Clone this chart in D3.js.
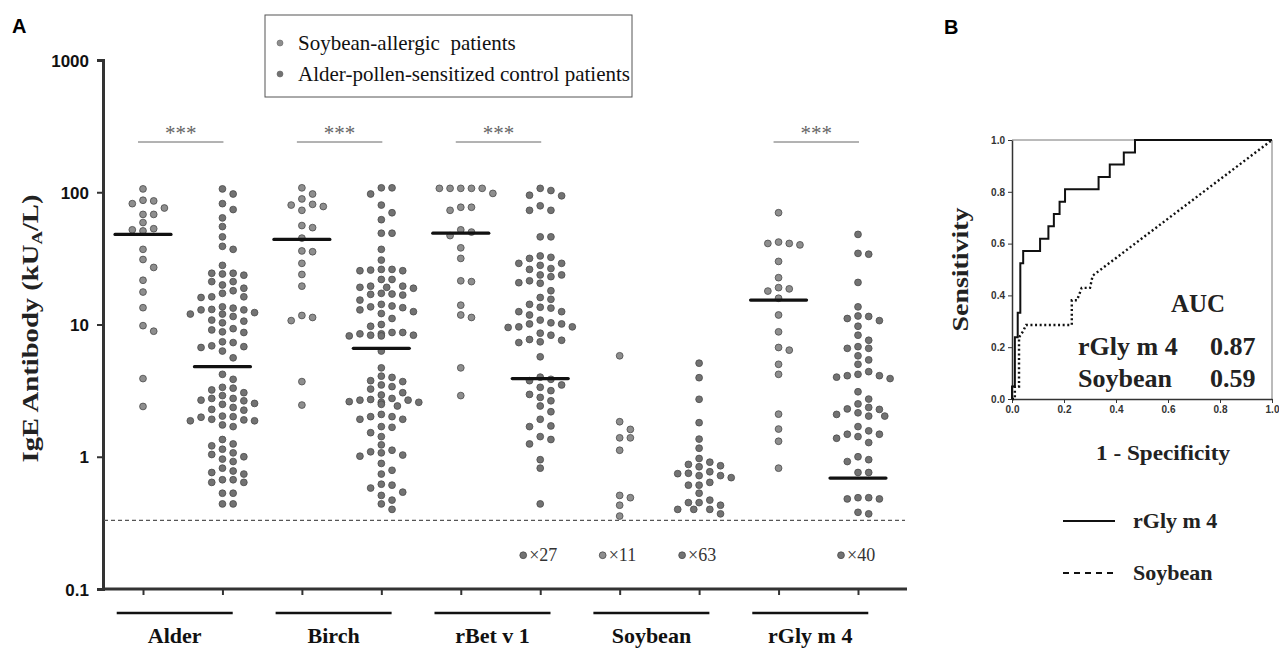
<!DOCTYPE html>
<html>
<head>
<meta charset="utf-8">
<title>IgE antibody levels and ROC</title>
<style>
  body { margin: 0; background: #fff; }
  svg { display: block; }
</style>
</head>
<body>
<script src="https://d3js.org/d3.v7.min.js"></script>
<script>
// ---- data ----
const allergens = ['Alder', 'Birch', 'rBet v 1', 'Soybean', 'rGly m 4'];
const groups = ['patients', 'controls'];
const seriesNames = ['Soybean-allergic  patients', 'Alder-pollen-sensitized control patients'];

const alderPatients = [106, 87, 86, 82, 76, 68, 68, 59, 53, 52, 51, 37, 31, 27, 21.6, 17.6, 13.4, 9.8, 8.9, 3.9, 2.4];
const alderControls = [106, 97, 82, 74, 64, 55, 46, 39, 37, 28, 24.4, 24.4, 24.1, 23.6, 21.1, 21.1, 19.9, 18.8, 18.0, 17.2,
  16.2, 16.2, 16.0, 13.6, 13.3, 13.0, 12.9, 12.9, 12.3, 12.0, 12.0, 11.5, 10.8, 10.6, 10.3, 9.3, 9.1, 8.8, 8.7, 7.4, 7.3,
  6.9, 6.8, 6.7, 6.3, 5.6, 4.2, 3.85, 3.35, 3.3, 3.2, 3.05, 2.9, 2.76, 2.76, 2.68, 2.65, 2.53, 2.49, 2.36, 2.28, 2.25,
  2.03, 2.01, 1.99, 1.92, 1.90, 1.87, 1.87, 1.74, 1.69, 1.35, 1.25, 1.21, 1.14, 1.07, 1.04, 1.00, 0.96, 0.92, 0.82,
  0.78, 0.76, 0.74, 0.67, 0.67, 0.64, 0.64, 0.53, 0.53, 0.44, 0.44];
const birchPatients = [108, 97, 89, 81, 80, 78, 73, 56, 54, 45, 36, 35.5, 29, 23.9, 19.5, 11.7, 11.3, 10.7, 3.7, 2.46];
const birchControls = [108, 108, 97, 80, 70, 62, 49, 49, 37, 30.7, 26.1, 26.1, 25.8, 25.5, 25.5, 21.9, 21.9, 19.5, 19.5,
  19.1, 19.1, 18.8, 17.2, 17.0, 16.9, 16.7, 15.3, 14.2, 13.8, 13.6, 13.4, 12.9, 12.5, 12.1, 11.1, 10.0, 9.7, 8.7, 8.7,
  8.5, 8.5, 8.3, 8.3, 8.2, 8.2, 6.3, 4.7, 4.07, 3.98, 3.76, 3.7, 3.49, 3.39, 3.25, 3.05, 2.93, 2.76, 2.71, 2.68, 2.68,
  2.61, 2.58, 2.58, 2.49, 2.42, 2.09, 2.01, 2.01, 1.92, 1.92, 1.69, 1.67, 1.52, 1.42, 1.23, 1.12, 1.09, 1.07, 1.03,
  1.01, 0.89, 0.79, 0.74, 0.62, 0.61, 0.58, 0.54, 0.51, 0.47, 0.44, 0.40];
const rBetPatients = [107, 107, 107, 107, 107, 98, 77, 77, 73, 52, 50, 47, 38, 31.6, 21.4, 21.1, 14.0, 11.8, 11.3, 4.7, 2.9];
const rBetControls = [107, 103, 95, 94, 79, 73, 73, 46, 46, 33, 32.2, 31.6, 29, 29, 28, 26.5, 26.1, 23.7, 23.7, 23.0,
  21.4, 20.7, 20.5, 18.0, 16.0, 15.5, 14.2, 13.5, 13.3, 12.5, 12.5, 11.8, 10.8, 10.3, 10.1, 10.1, 9.6, 9.6, 9.5, 8.6,
  8.3, 7.7, 7.6, 7.4, 7.3, 5.7, 4.0, 3.85, 3.76, 3.49, 3.35, 3.16, 2.96, 2.81, 2.65, 2.42, 2.19, 1.92, 1.71, 1.69,
  1.42, 1.35, 1.25, 0.95, 0.82, 0.44];
const soyPatients = [5.8, 1.84, 1.61, 1.39, 1.39, 1.12, 0.51, 0.49, 0.43, 0.356];
const soyControls = [5.1, 3.96, 2.72, 1.81, 1.36, 1.16, 0.97, 0.91, 0.875, 0.855, 0.84, 0.77, 0.75, 0.745, 0.72, 0.72,
  0.695, 0.64, 0.61, 0.61, 0.53, 0.47, 0.45, 0.45, 0.43, 0.40, 0.40, 0.40, 0.37];
const rGlyPatients = [70, 42, 41, 41, 40, 30, 22.6, 19, 18.6, 17.9, 15.8, 11.8, 8.8, 6.7, 6.4, 5.0, 4.2, 2.1, 1.62, 1.31, 0.82];
const rGlyControls = [48, 34.5, 34, 20.8, 13.6, 11.6, 11.5, 11.1, 10.7, 9.7, 8.3, 7.6, 6.8, 6.6, 6.6, 5.8, 5.4, 5.0,
  4.4, 4.2, 4.1, 4.1, 4.0, 3.9, 3.1, 2.73, 2.51, 2.36, 2.30, 2.28, 2.15, 2.09, 2.03, 2.03, 1.69, 1.57, 1.48, 1.48,
  1.42, 1.38, 1.28, 1.00, 0.95, 0.92, 0.76, 0.76, 0.49, 0.49, 0.48, 0.48, 0.38, 0.37];

const columnValues = [alderPatients, alderControls, birchPatients, birchControls, rBetPatients, rBetControls,
  soyPatients, soyControls, rGlyPatients, rGlyControls];
const medians = [48, 4.8, 44, 6.6, 49, 3.9, null, null, 15.3, 0.69];
const belowCutoff = [0, 0, 0, 0, 0, 27, 11, 63, 0, 40];
const cutoff = 0.33;
const belowValue = 0.18;
const sigAllergens = ['Alder', 'Birch', 'rBet v 1', 'rGly m 4'];
const yTicks = [0.1, 1, 10, 100, 1000];

// ROC (panel B)
const rocGlyFpr = [0, 0, 0.011, 0.022, 0.032, 0.043, 0.108, 0.14, 0.161, 0.183, 0.204, 0.333, 0.376, 0.43, 0.473, 1];
const rocGlyTpr = [0, 0.048, 0.238, 0.333, 0.524, 0.571, 0.619, 0.667, 0.714, 0.762, 0.81, 0.857, 0.905, 0.952, 1, 1];
const rocSoyFpr = [0, 0.011, 0.011, 0.027, 0.027, 0.043, 0.054, 0.23, 0.23, 0.25, 0.268, 0.30, 0.31, 1];
const rocSoyTpr = [0, 0, 0.048, 0.048, 0.238, 0.262, 0.286, 0.286, 0.381, 0.381, 0.429, 0.429, 0.476, 1];
const rocTicks = [0, 0.2, 0.4, 0.6, 0.8, 1.0];
const aucNames = ['rGly m 4', 'Soybean'];
const aucValues = [0.87, 0.59];

// ---- setup ----
const W = 1279, H = 649;
const SERIF = '"Liberation Serif", "Times New Roman", serif';
const SANS = '"Liberation Sans", Arial, sans-serif';
const dotFill = ['#8e8e8e', '#727272'];

const svg = d3.select('body').append('svg').attr('width', W).attr('height', H);

const colKeys = d3.cross(allergens, groups).map(d => d.join('|'));
const x = d3.scalePoint().domain(colKeys).range([143, 858]);
const y = d3.scaleLog().domain([0.1, 1000]).range([589, 60]);
// group underline sits a little left of the column pair centre in the original
const groupCenter = a => (x(a + '|patients') + x(a + '|controls')) / 2 - 8;

// beeswarm on a grid of ~10.7px columns
function swarm(values, cx) {
  const step = 10.7, minDist = 8;
  const cand = [0, 1, -1, 2, -2, 0.5, -0.5, 1.5, -1.5, 2.5, -2.5, 3, -3, 3.5, -3.5];
  const placed = [];
  values.map(v => ({v, y: y(v)})).sort((a, b) => a.y - b.y).forEach(d => {
    for (const k of cand) {
      const px = cx + k * step;
      if (placed.every(p => Math.hypot(p.x - px, p.y - d.y) >= minDist)) { d.x = px; break; }
    }
    if (d.x === undefined) d.x = cx;
    placed.push(d);
  });
  return placed;
}

// panel letters
svg.append('text').attr('x', 12).attr('y', 33).text('A')
  .style('font-family', SANS).style('font-weight', 'bold').style('font-size', '20px');
svg.append('text').attr('x', 944).attr('y', 34).text('B')
  .style('font-family', SANS).style('font-weight', 'bold').style('font-size', '20px');

// y axis
const yAxis = svg.append('g').attr('transform', 'translate(103,0)')
  .call(d3.axisLeft(y).tickValues(yTicks).tickFormat(d => d).tickSizeOuter(0).tickSize(6));
yAxis.select('.domain').attr('stroke', '#333').attr('stroke-width', 3);
yAxis.selectAll('.tick line').attr('stroke', '#333').attr('stroke-width', 2);
yAxis.selectAll('.tick text').attr('x', -14).attr('dy', '0.36em')
  .style('font-family', SANS).style('font-weight', 'bold').style('font-size', '17px').attr('fill', '#111');

// x axis (ticks only, long base line)
const xAxis = svg.append('g').attr('transform', 'translate(0,589)')
  .call(d3.axisBottom(x).tickSize(6).tickFormat(''));
xAxis.select('.domain').remove();
xAxis.selectAll('.tick line').attr('stroke', '#333').attr('stroke-width', 2);
svg.append('line').attr('x1', 102).attr('x2', 907).attr('y1', y(0.1)).attr('y2', y(0.1))
  .attr('stroke', '#333').attr('stroke-width', 3);

// y title
const yt = svg.append('text').attr('transform', `translate(38,${y(1)*0.5 + y(100)*0.5 + 4}) rotate(-90)`)
  .attr('text-anchor', 'middle').attr('textLength', 268).attr('lengthAdjust', 'spacingAndGlyphs')
  .style('font-family', SERIF).style('font-size', '23px').style('font-weight', 'bold').attr('fill', '#222');
yt.append('tspan').text('IgE Antibody (kU');
yt.append('tspan').text('A').attr('baseline-shift', '-25%').style('font-size', '15px');
yt.append('tspan').text('/L)');

// cutoff line
svg.append('line').attr('x1', 104).attr('x2', 905).attr('y1', y(cutoff)).attr('y2', y(cutoff))
  .attr('stroke', '#555').attr('stroke-width', 1.2).attr('stroke-dasharray', '4,3');

// dots
colKeys.forEach((key, i) => {
  const pts = swarm(columnValues[i], x(key));
  svg.append('g').selectAll('circle').data(pts).join('circle')
    .attr('cx', d => d.x).attr('cy', d => d.y).attr('r', 3.4)
    .attr('fill', dotFill[i % 2]).attr('stroke', '#4a4a4a').attr('stroke-width', 0.8);
});

// medians
svg.append('g').selectAll('line').data(colKeys.filter((k, i) => medians[i] != null)).join('line')
  .attr('x1', k => x(k) - 28).attr('x2', k => x(k) + 28)
  .attr('y1', k => y(medians[colKeys.indexOf(k)])).attr('y2', k => y(medians[colKeys.indexOf(k)]))
  .attr('stroke', '#111').attr('stroke-width', 3.2).attr('stroke-linecap', 'round');

// below-cutoff counts
const below = colKeys.map((k, i) => ({k, n: belowCutoff[i], g: i % 2})).filter(d => d.n > 0);
svg.append('g').selectAll('circle').data(below).join('circle')
  .attr('cx', d => x(d.k) - 17).attr('cy', y(belowValue)).attr('r', 3.4)
  .attr('fill', d => dotFill[d.g]).attr('stroke', '#4a4a4a').attr('stroke-width', 0.8);
svg.append('g').selectAll('text').data(below).join('text')
  .attr('x', d => x(d.k) - 11).attr('y', y(belowValue) + 6)
  .style('font-family', SERIF).style('font-size', '18px').attr('fill', '#333')
  .text(d => '\u00d7' + d.n);

// significance bars
const sig = svg.append('g');
sigAllergens.forEach(a => {
  const x1 = x(a + '|patients') - 5, x2 = x(a + '|controls') + 1;
  sig.append('line').attr('x1', x1).attr('x2', x2).attr('y1', 142).attr('y2', 142)
    .attr('stroke', '#666').attr('stroke-width', 1);
  sig.append('text').attr('x', (x1 + x2) / 2).attr('y', 140).attr('text-anchor', 'middle')
    .style('font-family', SERIF).style('font-size', '21px').attr('fill', '#666').text('***');
});

// group underlines and labels
const gl = svg.append('g');
allergens.forEach(a => {
  const c = groupCenter(a);
  gl.append('line').attr('x1', c - 58).attr('x2', c + 58).attr('y1', 613).attr('y2', 613)
    .attr('stroke', '#111').attr('stroke-width', 2.5);
  gl.append('text').attr('x', c).attr('y', 643).attr('text-anchor', 'middle')
    .style('font-family', SERIF).style('font-weight', 'bold').style('font-size', '22px').attr('fill', '#111').text(a);
});

// legend
const lg = svg.append('g');
lg.append('rect').attr('x', 265).attr('y', 15).attr('width', 367).attr('height', 82)
  .attr('fill', '#fff').attr('stroke', '#555').attr('stroke-width', 1);
seriesNames.forEach((s, i) => {
  lg.append('circle').attr('cx', 280).attr('cy', 43 + i * 31).attr('r', 3)
    .attr('fill', dotFill[i]).attr('stroke', '#666').attr('stroke-width', 0.6);
  lg.append('text').attr('x', 298).attr('y', 50 + i * 31).text(s)
    .style('white-space', 'pre')
    .style('font-family', SERIF).style('font-size', '21px').attr('fill', '#111');
});

// ---- panel B: ROC ----
const xr = d3.scaleLinear().domain([0, 1]).range([1012, 1272]);
const yr = d3.scaleLinear().domain([0, 1]).range([399, 140]);

svg.append('line').attr('x1', xr(0)).attr('x2', xr(1)).attr('y1', yr(1)).attr('y2', yr(1))
  .attr('stroke', '#777').attr('stroke-width', 1);
svg.append('line').attr('x1', xr(1)).attr('x2', xr(1)).attr('y1', yr(0)).attr('y2', yr(1))
  .attr('stroke', '#777').attr('stroke-width', 1);

const axL = svg.append('g').attr('transform', `translate(${xr(0)},0)`)
  .call(d3.axisLeft(yr).tickValues(rocTicks).tickFormat(d3.format('.1f')).tickSize(4).tickSizeOuter(0));
const axB = svg.append('g').attr('transform', `translate(0,${yr(0)})`)
  .call(d3.axisBottom(xr).tickValues(rocTicks).tickFormat(d3.format('.1f')).tickSize(4).tickSizeOuter(0));
[axL, axB].forEach(ax => {
  ax.select('.domain').attr('stroke', '#333').attr('stroke-width', 1.5);
  ax.selectAll('.tick line').attr('stroke', '#333');
  ax.selectAll('.tick text').style('font-family', SANS).style('font-weight', 'bold')
    .style('font-size', '10px').attr('fill', '#333');
});

const stepLine = d3.line().x(d => xr(d[0])).y(d => yr(d[1])).curve(d3.curveStepAfter);
const polyLine = d3.line().x(d => xr(d[0])).y(d => yr(d[1]));
svg.append('path').attr('d', stepLine(d3.zip(rocGlyFpr, rocGlyTpr)))
  .attr('fill', 'none').attr('stroke', '#111').attr('stroke-width', 2);
svg.append('path').attr('d', polyLine(d3.zip(rocSoyFpr, rocSoyTpr)))
  .attr('fill', 'none').attr('stroke', '#111').attr('stroke-width', 2.4).attr('stroke-dasharray', '2,2.6');

svg.append('text').attr('transform', `translate(968,${yr(0.5)}) rotate(-90)`).attr('text-anchor', 'middle')
  .attr('textLength', 124).attr('lengthAdjust', 'spacingAndGlyphs')
  .style('font-family', SERIF).style('font-weight', 'bold').style('font-size', '23px').attr('fill', '#222')
  .text('Sensitivity');
svg.append('text').attr('x', 1163).attr('y', 460).attr('text-anchor', 'middle')
  .attr('textLength', 134).attr('lengthAdjust', 'spacingAndGlyphs')
  .style('font-family', SERIF).style('font-weight', 'bold').style('font-size', '22px').attr('fill', '#222')
  .text('1 - Specificity');

// AUC text
svg.append('text').attr('x', 1198).attr('y', 312).attr('text-anchor', 'middle')
  .style('font-family', SERIF).style('font-weight', 'bold').style('font-size', '25px').attr('fill', '#222').text('AUC');
aucNames.forEach((n, i) => {
  svg.append('text').attr('x', 1078).attr('y', 355 + i * 32)
    .style('font-family', SERIF).style('font-weight', 'bold').style('font-size', '26px').attr('fill', '#222').text(n);
  svg.append('text').attr('x', 1210).attr('y', 355 + i * 32)
    .style('font-family', SERIF).style('font-weight', 'bold').style('font-size', '26px').attr('fill', '#222')
    .text(d3.format('.2f')(aucValues[i]));
});

// ROC legend
const rl = svg.append('g');
['', '6,5'].forEach((dash, i) => {
  rl.append('line').attr('x1', 1063).attr('x2', 1115).attr('y1', 521 + i * 52).attr('y2', 521 + i * 52)
    .attr('stroke', '#111').attr('stroke-width', 1.8).attr('stroke-dasharray', dash || null);
  rl.append('text').attr('x', 1133).attr('y', 528 + i * 52)
    .style('font-family', SERIF).style('font-weight', 'bold').style('font-size', '22px').attr('fill', '#222')
    .text(aucNames[i]);
});
</script>
</body>
</html>
